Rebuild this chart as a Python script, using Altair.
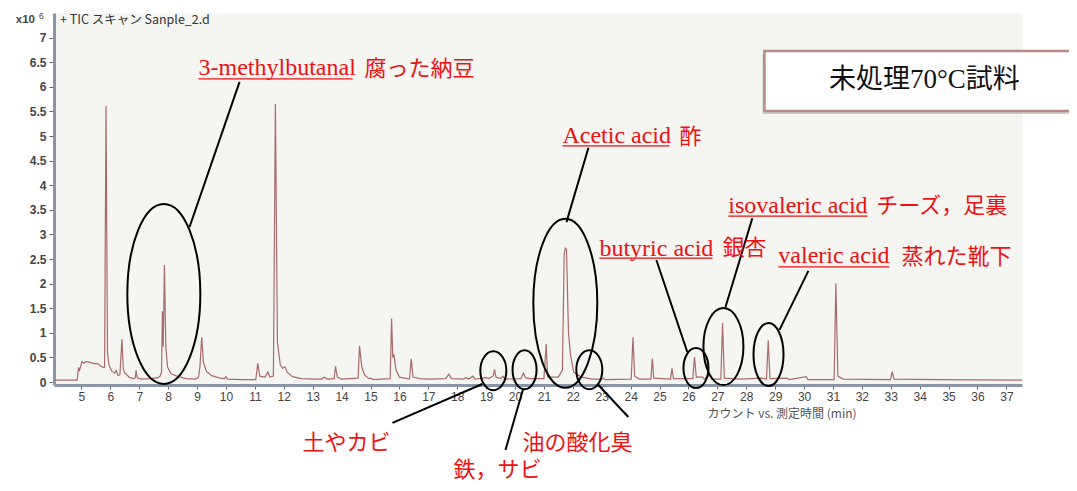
import altair as alt
import pandas as pd

# ---------------- chromatogram (TIC, counts x10^6 vs. minutes) ----------------
times = [4.07, 4.85, 4.90, 4.93, 4.97, 5.02, 5.08, 5.15, 5.30, 5.45, 5.55, 5.65, 5.75, 5.80,
         5.85, 5.90, 5.95, 6.05, 6.15, 6.20, 6.27, 6.33, 6.40, 6.45, 6.49, 6.55, 6.65, 6.78,
         6.86, 6.89, 6.93, 7.10, 7.40, 7.65, 7.72, 7.77, 7.80, 7.83, 7.87, 7.92, 7.98, 8.10,
         8.30, 8.43, 8.60, 8.95, 9.05, 9.10, 9.16, 9.22, 9.32, 9.50, 9.80, 9.95, 10.00, 10.05,
         10.60, 11.03, 11.10, 11.17, 11.35, 11.45, 11.52, 11.64, 11.71, 11.78, 11.88, 11.96,
         12.04, 12.12, 12.30, 12.60, 13.10, 13.30, 13.41, 13.50, 13.74, 13.79, 13.85, 14.00,
         14.57, 14.62, 14.70, 14.80, 14.95, 15.00, 15.10, 15.68, 15.73, 15.77, 15.81, 15.88,
         16.00, 16.35, 16.41, 16.47, 16.70, 17.00, 17.60, 17.71, 17.80, 18.20, 18.31, 18.40,
         18.54, 18.62, 18.98, 19.10, 19.25, 19.29, 19.34, 19.50, 19.58, 19.65, 20.20, 20.29,
         20.36, 20.50, 21.00, 21.08, 21.13, 21.50, 21.64, 21.70, 21.74, 21.78, 21.85, 21.92,
         22.03, 22.30, 22.68, 23.00, 23.06, 23.12, 24.02, 24.08, 24.14, 24.30, 24.70, 24.75,
         24.80, 25.38, 25.43, 25.48, 26.15, 26.21, 26.27, 26.49, 26.55, 26.73, 26.80, 27.12,
         27.18, 27.24, 27.82, 28.53, 28.70, 28.76, 28.82, 29.40, 29.50, 30.07, 30.14, 31.04,
         31.10, 31.17, 31.35, 32.99, 33.05, 33.11, 34.69, 37.54]
counts = [0.04, 0.04, 0.30, 0.22, 0.32, 0.42, 0.38, 0.42, 0.40, 0.37, 0.38, 0.33, 0.30, 0.30,
          5.61, 0.60, 0.35, 0.22, 0.18, 0.24, 0.13, 0.15, 0.87, 0.25, 0.19, 0.16, 0.10, 0.07,
          0.08, 0.24, 0.08, 0.06, 0.07, 0.09, 0.12, 0.20, 1.44, 0.72, 2.38, 0.70, 0.30, 0.17,
          0.12, 0.10, 0.07, 0.06, 0.10, 0.32, 0.91, 0.40, 0.22, 0.13, 0.08, 0.07, 0.11, 0.06,
          0.05, 0.05, 0.38, 0.12, 0.10, 0.20, 0.10, 0.12, 5.65, 0.80, 0.35, 0.28,
          0.31, 0.20, 0.11, 0.07, 0.06, 0.06, 0.10, 0.06, 0.07, 0.32, 0.10, 0.06,
          0.08, 0.73, 0.30, 0.14, 0.07, 0.08, 0.05, 0.07, 1.29, 0.50, 0.55, 0.25,
          0.10, 0.06, 0.47, 0.10, 0.07, 0.06, 0.07, 0.16, 0.07, 0.06, 0.09, 0.06,
          0.12, 0.06, 0.09, 0.07, 0.13, 0.26, 0.10, 0.07, 0.12, 0.06, 0.07, 0.18,
          0.09, 0.07, 0.07, 0.77, 0.10, 0.10, 0.25, 2.60, 2.72, 2.70, 1.00, 0.55,
          0.20, 0.10, 0.06, 0.06, 0.08, 0.05, 0.06, 0.91, 0.12, 0.06, 0.06, 0.48,
          0.08, 0.06, 0.28, 0.07, 0.07, 0.51, 0.10, 0.10, 0.06, 0.14, 0.06, 0.06,
          1.20, 0.08, 0.06, 0.08, 0.06, 0.85, 0.07, 0.08, 0.05, 0.11, 0.05, 0.05,
          2.00, 0.12, 0.06, 0.05, 0.21, 0.06, 0.05, 0.04]

x_ticks = list(range(5, 38))
y_ticks = [i * 0.5 for i in range(15)]

# ---------------- annotations ----------------
en_labels = ["3-methylbutanal", "Acetic acid", "isovaleric acid", "butyric acid", "valeric acid"]
en_t = [9.05, 21.64, 27.38, 22.92, 29.11]
en_v = [6.24, 4.86, 3.43, 2.56, 2.42]
ul_t2 = [14.38, 25.34, 32.19, 26.83, 32.95]
ul_v = [6.16, 4.80, 3.37, 2.52, 2.34]

jp_labels = ["腐った納豆", "酢", "チーズ，足裏", "銀杏", "蒸れた靴下", "土やカビ", "鉄，サビ", "油の酸化臭"]
jp_t = [14.79, 25.69, 32.50, 27.18, 33.37, 12.65, 17.87, 20.26]
jp_v = [6.36, 4.98, 3.58, 2.72, 2.54, -1.24, -1.78, -1.24]

lead_t1 = [10.47, 22.54, 28.21, 24.89, 30.15, 18.87, 20.29, 22.85]
lead_v1 = [6.10, 4.76, 3.33, 2.48, 2.26, -0.04, -0.12, -0.04]
lead_t2 = [8.74, 21.78, 27.28, 25.96, 29.15, 15.76, 19.67, 23.92]
lead_v2 = [3.15, 3.25, 1.52, 0.61, 1.06, -0.83, -1.38, -0.71]

ell_t = [7.85, 21.74, 27.21, 26.26, 28.77, 19.25, 20.33, 22.57]
ell_v = [1.79, 1.60, 0.72, 0.285, 0.56, 0.23, 0.25, 0.25]
ell_rx = [36.5, 32, 20, 12.5, 15, 13, 12, 13]
ell_ry = [90, 84.5, 38.5, 20, 31.5, 19.5, 19.5, 19.5]

box_text = "未処理70°C試料"


def ellipse_path(rx, ry):
    k = rx / ry
    c = 0.5523
    return (f"M {k} 0 C {k} {c} {c*k} 1 0 1 C {-c*k} 1 {-k} {c} {-k} 0 "
            f"C {-k} {-c} {-c*k} -1 0 -1 C {c*k} -1 {k} {-c} {k} 0 Z")


RED = "#ee1111"
xs = alt.Scale(domain=[4.05, 37.54], nice=False, zero=False)
ys = alt.Scale(domain=[-0.06, 7.5], nice=False, zero=False)

x_axis = alt.Axis(values=x_ticks, format="d", grid=False, domainColor="#8a96a8",
                  domainWidth=3, tickColor="#666", tickSize=4, labelPadding=2,
                  labelOverlap=False, labelFlush=False,
                  labelFontSize=12, labelColor="#444", labelFont="Liberation Sans",
                  title="カウント vs. 測定時間 (min)", titleFont="Noto Sans CJK JP",
                  titleFontSize=12, titleFontWeight="normal", titleColor="#555",
                  titleAnchor="start", titleAlign="left", titleX=653, titleY=28,
                  titleBaseline="middle")
y_axis = alt.Axis(values=y_ticks, format="~g", grid=False, domainColor="#8a96a8",
                  domainWidth=3, tickColor="#666", tickSize=5, labelPadding=3,
                  labelOverlap=False, labelFlush=False,
                  labelFontSize=12, labelFontWeight="bold", labelColor="#444",
                  labelFont="Liberation Sans", title=None)


def X(f):
    return alt.X(f, scale=xs, axis=x_axis, title="カウント vs. 測定時間 (min)")


def Y(f):
    return alt.Y(f, scale=ys, axis=y_axis, title=None)


df = pd.DataFrame({"t": times, "v": counts})

line = alt.Chart(df).mark_line(color="#a86b6b", strokeWidth=1.2, clip=True).encode(
    x=X("t:Q"), y=Y("v:Q"))

lead_df = pd.DataFrame({"t1": lead_t1, "v1": lead_v1, "t2": lead_t2, "v2": lead_v2})
leaders = alt.Chart(lead_df).mark_rule(color="black", strokeWidth=2).encode(
    x=X("t1:Q"), y=Y("v1:Q"), x2="t2:Q", y2="v2:Q")

ell_df = pd.DataFrame({
    "t": ell_t, "v": ell_v,
    "shape": [ellipse_path(a, b) for a, b in zip(ell_rx, ell_ry)],
    "size": [(2 * b) ** 2 for b in ell_ry],
})
ellipses = alt.Chart(ell_df).mark_point(filled=False, stroke="black", strokeWidth=2,
                                        opacity=1).encode(
    x=X("t:Q"), y=Y("v:Q"),
    shape=alt.Shape("shape:N", scale=None), size=alt.Size("size:Q", scale=None))

en_df = pd.DataFrame({"label": en_labels, "t": en_t, "v": en_v, "t2": ul_t2, "uv": ul_v})
en_text = alt.Chart(en_df).mark_text(align="left", baseline="alphabetic", font="Liberation Serif",
                                     fontSize=24, color=RED).encode(
    x=X("t:Q"), y=Y("v:Q"), text="label:N")
underline = alt.Chart(en_df).mark_rule(color=RED, strokeWidth=1.2).encode(
    x=X("t:Q"), x2="t2:Q", y=Y("uv:Q"))

jp_df = pd.DataFrame({"label": jp_labels, "t": jp_t, "v": jp_v})
jp_text = alt.Chart(jp_df).mark_text(align="left", baseline="middle", font="Noto Sans CJK JP",
                                     fontSize=22, color=RED).encode(
    x=X("t:Q"), y=Y("v:Q"), text="label:N")

box_df = pd.DataFrame({"t1": [28.63], "t2": [40.5], "v1": [6.73], "v2": [5.51],
                       "tc": [34.16], "vc": [6.14], "label": [box_text]})
shadow = alt.Chart(box_df).mark_rect(fill="#999999", opacity=0.45,
                                     xOffset=-2, x2Offset=-2, yOffset=3, y2Offset=3).encode(
    x=X("t1:Q"), x2="t2:Q", y=Y("v1:Q"), y2="v2:Q")
box = alt.Chart(box_df).mark_rect(fill="white", stroke="#b88a84", strokeWidth=2.5).encode(
    x=X("t1:Q"), x2="t2:Q", y=Y("v1:Q"), y2="v2:Q")
box_lbl = alt.Chart(box_df).mark_text(align="center", baseline="middle",
                                      font="Liberation Serif, Noto Sans CJK JP",
                                      fontSize=27, color="#111").encode(
    x=X("tc:Q"), y=Y("vc:Q"), text="label:N")

hdr_df = pd.DataFrame({"label": ["+ TIC スキャン Sanple_2.d"]})
header = alt.Chart(hdr_df).mark_text(align="left", baseline="middle", font="Noto Sans CJK JP",
                                     fontSize=12.5, color="#333").encode(
    x=alt.value(6), y=alt.value(7), text="label:N")
x10 = alt.Chart(pd.DataFrame({"label": ["x10"]})).mark_text(
    align="right", baseline="middle", font="Liberation Sans", fontSize=11.5,
    fontWeight="bold", color="#444").encode(x=alt.value(-19), y=alt.value(7), text="label:N")
exp6 = alt.Chart(pd.DataFrame({"label": ["6"]})).mark_text(
    align="left", baseline="middle", font="Liberation Sans", fontSize=8.5,
    color="#444").encode(x=alt.value(-15), y=alt.value(3), text="label:N")

chart = alt.layer(line, shadow, box, box_lbl, leaders, ellipses, underline, en_text, jp_text,
                  header, x10, exp6).properties(
    width=968, height=372,
    autosize=alt.AutoSizeParams(type="none"),
    padding={"left": 46, "top": 5, "right": 47, "bottom": 98},
    background="white",
).configure_view(fill="#f5f5f1", stroke=None).configure_axis(
    labelOverlap=False, labelFlush=False)

chart.save("out.html", embed_options={"renderer": "svg", "actions": False})
